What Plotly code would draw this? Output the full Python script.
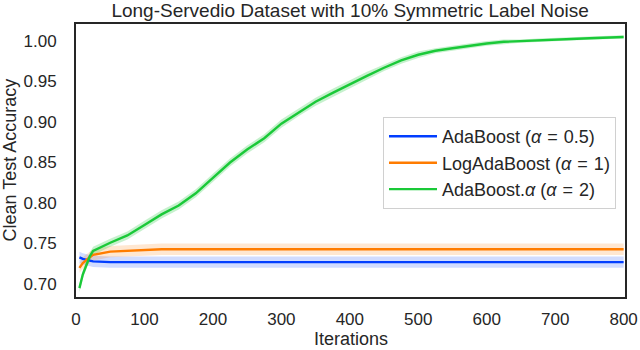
import plotly.graph_objects as go

# Iteration counts where accuracy was recorded
iterations = [5, 10, 20, 25, 50, 75, 100, 125, 150, 175, 200, 225, 250, 275, 300,
              325, 350, 375, 400, 425, 450, 475, 500, 525, 550, 575, 600, 625,
              650, 675, 700, 750, 800]

# Mean clean test accuracy per method
ada_mean = [0.733, 0.731, 0.729, 0.728, 0.727, 0.727, 0.727, 0.727, 0.727, 0.727,
            0.727, 0.727, 0.727, 0.727, 0.727, 0.727, 0.727, 0.727, 0.727, 0.727,
            0.727, 0.727, 0.727, 0.727, 0.727, 0.727, 0.727, 0.727, 0.727, 0.727,
            0.727, 0.727, 0.727]
log_mean = [0.720, 0.726, 0.733, 0.736, 0.740, 0.741, 0.742, 0.743, 0.743, 0.743,
            0.743, 0.743, 0.743, 0.743, 0.743, 0.743, 0.743, 0.743, 0.743, 0.743,
            0.743, 0.743, 0.743, 0.743, 0.743, 0.743, 0.743, 0.743, 0.743, 0.743,
            0.743, 0.743, 0.743]
alpha_mean = [0.695, 0.712, 0.734, 0.741, 0.751, 0.760, 0.773, 0.786, 0.797, 0.812,
              0.831, 0.850, 0.866, 0.880, 0.898, 0.912, 0.925, 0.936, 0.947, 0.957,
              0.967, 0.976, 0.983, 0.988, 0.991, 0.994, 0.997, 0.999, 1.000, 1.001,
              1.002, 1.0035, 1.005]

# Half-width of the shaded spread around each mean
ada_spread = [0.007, 0.007, 0.007, 0.007, 0.007, 0.007, 0.007, 0.007, 0.007, 0.007,
              0.007, 0.007, 0.007, 0.007, 0.007, 0.007, 0.007, 0.007, 0.007, 0.007,
              0.007, 0.007, 0.007, 0.007, 0.007, 0.007, 0.007, 0.007, 0.007, 0.007,
              0.007, 0.007, 0.007]
log_spread = [0.006, 0.007, 0.007, 0.007, 0.007, 0.007, 0.007, 0.007, 0.007, 0.007,
              0.007, 0.007, 0.007, 0.007, 0.007, 0.007, 0.007, 0.007, 0.007, 0.007,
              0.007, 0.007, 0.007, 0.007, 0.007, 0.007, 0.007, 0.007, 0.007, 0.007,
              0.007, 0.007, 0.007]
alpha_spread = [0.005, 0.005, 0.005, 0.005, 0.005, 0.005, 0.005, 0.005, 0.005, 0.005,
                0.005, 0.005, 0.005, 0.005, 0.005, 0.005, 0.005, 0.005, 0.005, 0.005,
                0.004, 0.004, 0.004, 0.003, 0.003, 0.003, 0.003, 0.003, 0.002, 0.002,
                0.002, 0.002, 0.002]

series = [
    ("AdaBoost (<i>α</i>\u2004=\u20040.5)", ada_mean, ada_spread, "#023eff", "rgba(2,62,255,0.18)"),
    ("LogAdaBoost (<i>α</i>\u2004=\u20041)", log_mean, log_spread, "#ff7c00", "rgba(255,124,0,0.18)"),
    ("AdaBoost.<i>α</i> (<i>α</i>\u2004=\u20042)", alpha_mean, alpha_spread, "#1ac938", "rgba(26,201,56,0.25)"),
]

fig = go.Figure()

# shaded bands first so that lines are drawn on top
for name, mean, spread, color, fill in series:
    upper = [m + s for m, s in zip(mean, spread)]
    lower = [m - s for m, s in zip(mean, spread)]
    fig.add_trace(go.Scatter(
        x=iterations + iterations[::-1],
        y=upper + lower[::-1],
        fill="toself", fillcolor=fill, line=dict(width=0),
        hoverinfo="skip", showlegend=False,
    ))

for name, mean, spread, color, fill in series:
    fig.add_trace(go.Scatter(
        x=iterations, y=mean, mode="lines", name=name,
        line=dict(color=color, width=2.4),
    ))

fig.update_layout(
    width=640, height=350,
    margin=dict(l=76, r=15, t=24, b=53),
    paper_bgcolor="white", plot_bgcolor="white",
    font=dict(family="Liberation Sans, Arial, sans-serif", size=17, color="#262626"),
    title=dict(text="Long-Servedio Dataset with 10% Symmetric Label Noise",
               x=0.547, xanchor="center", y=0.97, yanchor="middle",
               font=dict(size=19)),
    showlegend=True,
    legend=dict(x=0.9836, xanchor="right", y=0.659, yanchor="top",
                bgcolor="white", bordercolor="#d0d0d0", borderwidth=1,
                font=dict(size=18), itemwidth=48),
    annotations=[
        dict(text="Iterations", xref="paper", yref="paper",
             x=0.5, y=-0.154, xanchor="center", yanchor="middle",
             showarrow=False, font=dict(size=18)),
        dict(text="Clean Test Accuracy", xref="paper", yref="paper",
             x=-0.122, y=0.5, xanchor="center", yanchor="middle",
             textangle=-90, showarrow=False, font=dict(size=18)),
    ],
)
fig.update_xaxes(
    range=[0, 802], tickvals=[0, 100, 200, 300, 400, 500, 600, 700, 800],
    showgrid=False, zeroline=False, showline=True, linecolor="#262626",
    linewidth=1.8, mirror=True, ticks="", ticklabelstandoff=6,
    automargin=False,
)
fig.update_yaxes(
    range=[0.684, 1.021], tickvals=[0.70, 0.75, 0.80, 0.85, 0.90, 0.95, 1.00],
    tickformat=".2f",
    showgrid=False, zeroline=False, showline=True, linecolor="#262626",
    linewidth=1.8, mirror=True, ticks="", ticklabelstandoff=14,
    automargin=False,
)

# drop the default page margin so the figure sits at the window corner
fig.write_html("out.html", config={"displayModeBar": False},
               post_script="document.body.style.margin = '0';")
